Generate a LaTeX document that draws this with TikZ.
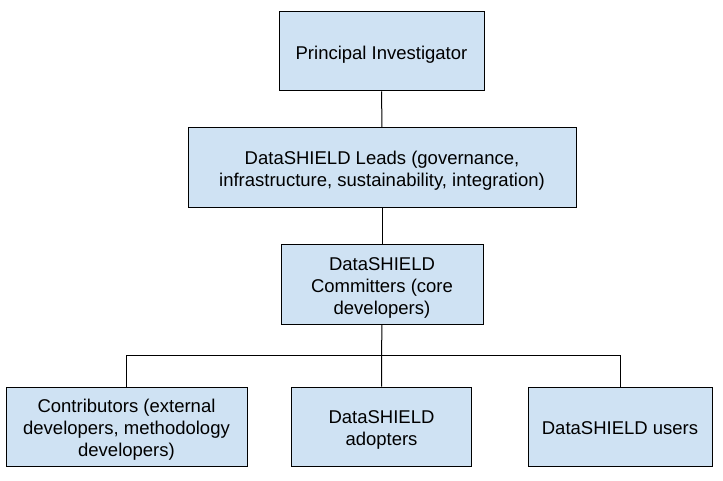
\documentclass[tikz,border=0pt]{standalone}
\usepackage{fontspec}
\setmainfont{Liberation Sans}
\definecolor{boxfill}{HTML}{CFE2F3}
\definecolor{linecol}{HTML}{000000}
\newcommand{\boxtext}[1]{\raisebox{-3.6pt}[\height][\depth]{\begin{tabular}{@{}c@{}}#1\end{tabular}}}
\begin{document}
\begin{tikzpicture}[x=1pt,y=-1pt,
  box/.style={draw=linecol, line width=1pt, fill=boxfill, inner sep=0pt, align=center,
    font=\fontsize{18.5}{22}\selectfont},
  conn/.style={draw=linecol, line width=1pt}]
\useasboundingbox (0,0) rectangle (723,481);
\node[box, minimum width=205pt, minimum height=79pt] (pi) at (381.5,51.5) {\boxtext{Principal Investigator}};
\node[box, minimum width=388pt, minimum height=80pt] (leads) at (382,168) {\boxtext{DataSHIELD Leads (governance,\\infrastructure, sustainability, integration)}};
\node[box, minimum width=202pt, minimum height=79pt] (com) at (382,284.5) {\boxtext{DataSHIELD\\Committers (core\\developers)}};
\node[box, minimum width=241pt, minimum height=79pt] (contrib) at (126.5,426.5) {\boxtext{Contributors (external\\developers, methodology\\developers)}};
\node[box, minimum width=180pt, minimum height=79pt] (adopt) at (381.5,426.5) {\boxtext{DataSHIELD\\adopters}};
\node[box, minimum width=184pt, minimum height=79pt] (users) at (620,426.5) {\boxtext{DataSHIELD users}};
\coordinate (bus) at (381.5,355);
\draw[conn] (pi) -- (leads);
\draw[conn] (leads) -- (com);
\draw[conn] (com.south) -- (bus) -- (adopt.north);
\draw[conn] (bus) -| (contrib.north);
\draw[conn] (bus) -| (users.north);
\end{tikzpicture}
\end{document}
